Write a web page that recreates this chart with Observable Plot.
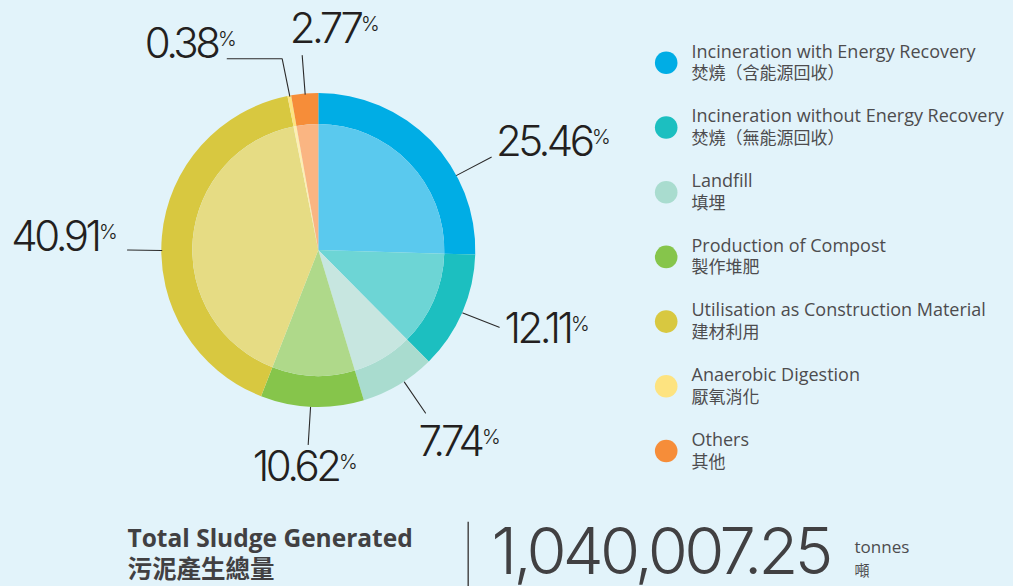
<!DOCTYPE html>
<html>
<head>
<meta charset="utf-8">
<script src="https://cdn.jsdelivr.net/npm/d3@7"></script>
<script src="https://cdn.jsdelivr.net/npm/@observablehq/plot@0.6"></script>
<style>
  html, body { margin: 0; padding: 0; background: #E2F3FA; }
  #chart svg { display: block; background: #E2F3FA; }
  g[font-size="42"] text { letter-spacing: -3.5px; }
  g[font-size="65"] text { letter-spacing: -3.7px; }
</style>
</head>
<body>
<div id="chart"></div>
<script>
// ---- data ----
const categories = [
  "Incineration with Energy Recovery",
  "Incineration without Energy Recovery",
  "Landfill",
  "Production of Compost",
  "Utilisation as Construction Material",
  "Anaerobic Digestion",
  "Others"
];
const categoriesZh = [
  "焚燒（含能源回收）",
  "焚燒（無能源回收）",
  "填埋",
  "製作堆肥",
  "建材利用",
  "厭氧消化",
  "其他"
];
const shares = [25.46, 12.11, 7.74, 10.62, 40.91, 0.38, 2.77];
const totalLabel = "Total Sludge Generated";
const totalLabelZh = "污泥產生總量";
const totalValue = "1,040,007.25";
const unitLabel = "tonnes";
const unitLabelZh = "噸";

// ---- styles ----
const outerColors = ["#00ADE5", "#1CBFC0", "#A9DCCF", "#86C54B", "#D8C840", "#FDE380", "#F68D39"];
const innerColors = ["#5AC9EE", "#6DD5D5", "#C7E6E0", "#AFD98A", "#E6DC84", "#FEEFB0", "#FAB582"];

// ---- layout ----
const W = 1013, H = 586;
const center = [318.3, 250];
const rOuter = 157, rInner = 126;
const labelLayout = [
  {frac: 0.67, pts: [[490.7, 156.7]], tx: 591, ty: 155},
  {frac: 0.50, pts: [[498.7, 326.7]], tx: 570, ty: 342},
  {frac: 0.42, pts: [[425, 412.5]], tx: 481, ty: 455},
  {frac: 0.52, pts: [[307.7, 444]], tx: 338, ty: 480.5},
  {frac: 0.466, pts: [[127, 249.5]], tx: 98, ty: 250},
  {frac: 0.50, pts: [[281.7, 58.3], [226.7, 58.3]], tx: 217, ty: 57},
  {frac: 0.50, pts: [[301.7, 55]], tx: 360, ty: 42}
];
const legendX = 665.7, legendY0 = 62.3, legendStep = 64.7;

// ---- build ----
const rows = categories.map((c, i) => ({cat: c, zh: categoriesZh[i], share: shares[i], i}));
const arcs = d3.pie().sort(null).value(d => d.share).startAngle(0).endAngle(2 * Math.PI)(rows);

function polar(a, r) {
  return [center[0] + r * Math.sin(a), center[1] - r * Math.cos(a)];
}

const leaderPts = [];
arcs.forEach((a, i) => {
  const L = labelLayout[i];
  const ang = a.startAngle + (a.endAngle - a.startAngle) * L.frac;
  const p0 = polar(ang, rOuter);
  leaderPts.push({k: i, x: p0[0], y: p0[1]});
  L.pts.forEach(p => leaderPts.push({k: i, x: p[0], y: p[1]}));
});

const labelRows = rows.map((d, i) => ({
  num: d.share.toFixed(2),
  x: labelLayout[i].tx, y: labelLayout[i].ty
}));

const legendRows = rows.map((d, i) => ({...d, y: legendY0 + i * legendStep}));

function pieMark(index, scales) {
  const g = d3.create("svg:g");
  const cx = scales.x(center[0]), cy = scales.y(center[1]);
  const k = scales.x(1) - scales.x(0);
  const inner = d3.arc().innerRadius(0).outerRadius(rInner * k);
  const outer = d3.arc().innerRadius(rInner * k).outerRadius(rOuter * k);
  const gg = g.append("g").attr("transform", `translate(${cx},${cy})`);
  gg.selectAll("path.o").data(arcs).join("path")
    .attr("d", outer).attr("fill", d => outerColors[d.data.i]);
  gg.selectAll("path.i").data(arcs).join("path")
    .attr("d", inner).attr("fill", d => innerColors[d.data.i]);
  return g.node();
}

const numFont = "Inter, 'Open Sans', sans-serif";
const txtFont = "'Open Sans', 'Noto Sans CJK TC', sans-serif";
const zhFont = "'Noto Sans CJK TC', sans-serif";

const chart = Plot.plot({
  width: W,
  height: H,
  margin: 0,
  style: {background: "#E2F3FA", overflow: "visible"},
  x: {domain: [0, W], range: [0, W], axis: null},
  y: {domain: [0, H], range: [0, H], axis: null},
  marks: [
    pieMark,
    Plot.line(leaderPts, {x: "x", y: "y", z: "k", stroke: "#2B2A2A", strokeWidth: 1.1}),
    Plot.text(labelRows, {x: "x", y: "y", text: "num", textAnchor: "end", lineAnchor: "bottom",
      fontSize: 42, fontWeight: 300, fontFamily: numFont, fill: "#231F20"}),
    Plot.text(labelRows, {x: d => d.x + 0.5, y: "y", text: () => "%", textAnchor: "start", lineAnchor: "bottom",
      dy: -12, fontSize: 20, fontWeight: 300, fontFamily: numFont, fill: "#231F20"}),
    // legend
    Plot.dot(legendRows, {x: () => legendX, y: "y", r: 11.3, fill: d => outerColors[d.i]}),
    Plot.text(legendRows, {x: () => 691, y: d => d.y - 5.3, text: "cat", textAnchor: "start", lineAnchor: "bottom",
      fontSize: 18, fontFamily: txtFont, fill: "#4D4C4E"}),
    Plot.text(legendRows, {x: () => 691, y: d => d.y + 16.5, text: "zh", textAnchor: "start", lineAnchor: "bottom",
      fontSize: 17, fontFamily: zhFont, fill: "#4D4C4E"}),
    // total
    Plot.text([totalLabel], {x: () => 127, y: () => 546.5, text: d => d, textAnchor: "start", lineAnchor: "bottom",
      fontSize: 24.5, fontWeight: 700, fontFamily: "'Open Sans', sans-serif", fill: "#414042"}),
    Plot.text([totalLabelZh], {x: () => 127, y: () => 577, text: d => d, textAnchor: "start", lineAnchor: "bottom",
      fontSize: 24.5, fontWeight: 700, fontFamily: zhFont, fill: "#414042"}),
    Plot.ruleX([467.7], {y1: 521.7, y2: H, stroke: "#4A494A", strokeWidth: 1.5}),
    Plot.text([totalValue], {x: () => 491, y: () => 573.5, text: d => d, textAnchor: "start", lineAnchor: "bottom",
      fontSize: 65, fontWeight: 300, fontFamily: numFont, fill: "#414042"}),
    Plot.text([unitLabel], {x: () => 854, y: () => 552.7, text: d => d, textAnchor: "start", lineAnchor: "bottom",
      fontSize: 17, fontFamily: txtFont, fill: "#4D4C4E"}),
    Plot.text([unitLabelZh], {x: () => 854, y: () => 575, text: d => d, textAnchor: "start", lineAnchor: "bottom",
      fontSize: 15, fontFamily: zhFont, fill: "#4D4C4E"})
  ]
});
document.getElementById("chart").appendChild(chart);
</script>
</body>
</html>
